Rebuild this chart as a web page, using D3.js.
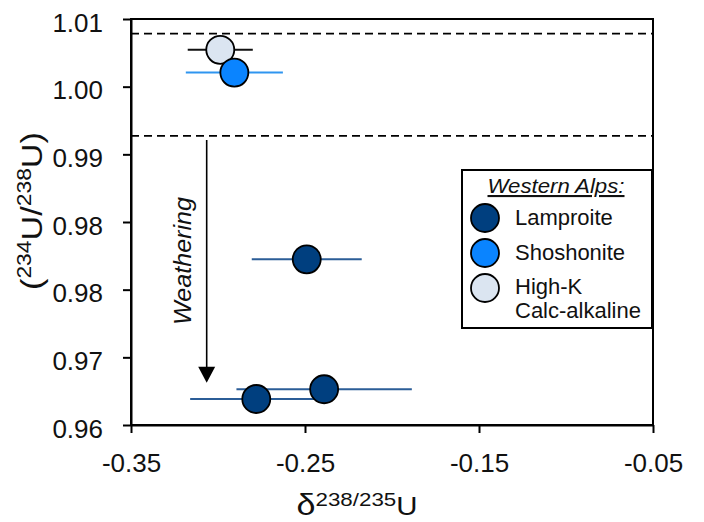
<!DOCTYPE html>
<html><head><meta charset="utf-8">
<script src="https://cdn.jsdelivr.net/npm/d3@7"></script>
<style>
html,body{margin:0;padding:0;background:#fff;}
svg{display:block;font-family:"Liberation Sans",Arial,sans-serif;}
</style></head>
<body><svg id="c" width="704" height="522"></svg>
<script>
// ---- data ----
const seriesNames = ["Lamproite", "Shoshonite", "High-K Calc-alkaline"];
const lampX = [-0.249, -0.239, -0.278];
const lampY = [0.9804, 0.9644, 0.9632];
const lampErr = [0.0316, 0.0504, 0.038];
const shoX = [-0.2906];
const shoY = [1.0034];
const shoErr = [0.0279];
const hkX = [-0.2987];
const hkY = [1.0062];
const hkErr = [0.0187];
const xTicks = [-0.35, -0.25, -0.15, -0.05];
const xTickLabels = ["-0.35", "-0.25", "-0.15", "-0.05"];
const yTicks = [0.96, 0.96 + 0.05/6, 0.96 + 0.10/6, 0.96 + 0.15/6, 0.96 + 0.20/6, 0.96 + 0.25/6, 1.01];
const yTickLabels = ["0.96", "0.97", "0.98", "0.98", "0.99", "1.00", "1.01"];
const dashedY = [1.0082, 0.9956];
const arrowX = -0.3065, arrowY0 = 0.9951, arrowY1 = 0.9652;

const fills = {"Lamproite":"#003f7f", "Shoshonite":"#0a84ff", "High-K Calc-alkaline":"#dbe5f1"};
const barCols = {"Lamproite":"#2b5d97", "Shoshonite":"#2f95f0", "High-K Calc-alkaline":"#111"};

const svg = d3.select("#c");
const L = 131, R = 653, T = 19, B = 425;
const x = d3.scaleLinear().domain([-0.35, -0.05]).range([L, R]);
const y = d3.scaleLinear().domain([0.96, 1.01]).range([B, T]);

// frame
svg.append("rect").attr("x", L).attr("y", T).attr("width", R - L).attr("height", B - T)
  .attr("fill", "none").attr("stroke", "#000").attr("stroke-width", 2);

// axes
const xa = svg.append("g").attr("transform", `translate(0,${B})`)
  .call(d3.axisBottom(x).tickValues(xTicks).tickSize(8).tickSizeOuter(0).tickFormat((d, i) => xTickLabels[i]));
const ya = svg.append("g").attr("transform", `translate(${L},0)`)
  .call(d3.axisLeft(y).tickValues(yTicks).tickSize(8).tickSizeOuter(0).tickFormat((d, i) => yTickLabels[i]));
[xa, ya].forEach(g => {
  g.select(".domain").attr("stroke", "#000").attr("stroke-width", 2);
  g.selectAll(".tick line").attr("stroke", "#000").attr("stroke-width", 2);
  g.selectAll(".tick text").attr("fill", "#111").attr("font-size", 26)
    .attr("font-family", '"Liberation Sans",Arial,sans-serif');
});
xa.selectAll(".tick text").attr("y", 47).attr("dy", null);
ya.selectAll(".tick text").attr("x", -28).attr("dy", 12);

// dashed lines
svg.selectAll(".dash").data(dashedY).enter().append("line")
  .attr("x1", L).attr("x2", R).attr("y1", d => y(d)).attr("y2", d => y(d))
  .attr("stroke", "#000").attr("stroke-width", 1.7).attr("stroke-dasharray", "8,5");

// arrow
svg.append("line").attr("x1", x(arrowX)).attr("x2", x(arrowX))
  .attr("y1", y(arrowY0)).attr("y2", y(arrowY1) - 14).attr("stroke", "#000").attr("stroke-width", 1.6);
const ax = x(arrowX), ay = y(arrowY1);
svg.append("path").attr("d", `M${ax - 8.5},${ay - 16}L${ax + 8.5},${ay - 16}L${ax},${ay}Z`).attr("fill", "#000");
svg.append("text").attr("transform", `translate(191,261) rotate(-90)`)
  .attr("text-anchor", "middle").attr("font-size", 24).attr("font-style", "italic").attr("fill", "#111")
  .attr("textLength", 128).attr("lengthAdjust", "spacingAndGlyphs").text("Weathering");

// data
const data = [];
hkX.forEach((v, i) => data.push({s: "High-K Calc-alkaline", x: v, y: hkY[i], e: hkErr[i]}));
shoX.forEach((v, i) => data.push({s: "Shoshonite", x: v, y: shoY[i], e: shoErr[i]}));
lampX.forEach((v, i) => data.push({s: "Lamproite", x: v, y: lampY[i], e: lampErr[i]}));

const plot = svg.append("g");
["High-K Calc-alkaline", "Shoshonite", "Lamproite"].forEach(s => {
  const d = data.filter(p => p.s === s);
  plot.selectAll(null).data(d).enter().append("line")
    .attr("x1", p => x(p.x - p.e)).attr("x2", p => x(p.x + p.e))
    .attr("y1", p => y(p.y)).attr("y2", p => y(p.y))
    .attr("stroke", barCols[s]).attr("stroke-width", 2);
  plot.selectAll(null).data(d).enter().append("circle")
    .attr("cx", p => x(p.x)).attr("cy", p => y(p.y)).attr("r", 14)
    .attr("fill", fills[s]).attr("stroke", "#000").attr("stroke-width", 1.8);
});

// axis titles
const xt = svg.append("text").attr("x", 357).attr("y", 515).attr("text-anchor", "middle")
  .attr("fill", "#111").attr("textLength", 121).attr("lengthAdjust", "spacingAndGlyphs");
xt.append("tspan").attr("font-size", 29).text("δ");
xt.append("tspan").attr("font-size", 19).attr("dy", -9).text("238/235");
xt.append("tspan").attr("font-size", 25).attr("dy", 9).text("U");

const yt = svg.append("text").attr("transform", "translate(42,211) rotate(-90)").attr("text-anchor", "middle")
  .attr("fill", "#111").attr("textLength", 158).attr("lengthAdjust", "spacingAndGlyphs");
yt.append("tspan").attr("font-size", 30).text("(");
yt.append("tspan").attr("font-size", 20).attr("dy", -11).text("234");
yt.append("tspan").attr("font-size", 30).attr("dy", 11).text("U/");
yt.append("tspan").attr("font-size", 20).attr("dy", -11).text("238");
yt.append("tspan").attr("font-size", 30).attr("dy", 11).text("U)");

// legend
const lg = svg.append("g");
lg.append("rect").attr("x", 462).attr("y", 170).attr("width", 190).attr("height", 158)
  .attr("fill", "#fff").attr("stroke", "#000").attr("stroke-width", 2);
lg.append("text").attr("x", 556).attr("y", 193).attr("text-anchor", "middle").attr("font-size", 21)
  .attr("font-style", "italic").attr("text-decoration", "underline").attr("fill", "#111")
  .attr("textLength", 137).attr("lengthAdjust", "spacingAndGlyphs").text("Western Alps:");
const legY = [218, 253, 288];
seriesNames.forEach((s, i) => {
  lg.append("circle").attr("cx", 485).attr("cy", legY[i]).attr("r", 14)
    .attr("fill", fills[s]).attr("stroke", "#000").attr("stroke-width", 1.8);
});
const legLines = [["Lamproite"], ["Shoshonite"], ["High-K", "Calc-alkaline"]];
const legBase = [[225], [260], [294, 318]];
legLines.forEach((ls, i) => ls.forEach((t, j) => {
  lg.append("text").attr("x", 515).attr("y", legBase[i][j]).attr("font-size", 22).attr("fill", "#111").text(t);
}));
</script></body></html>
